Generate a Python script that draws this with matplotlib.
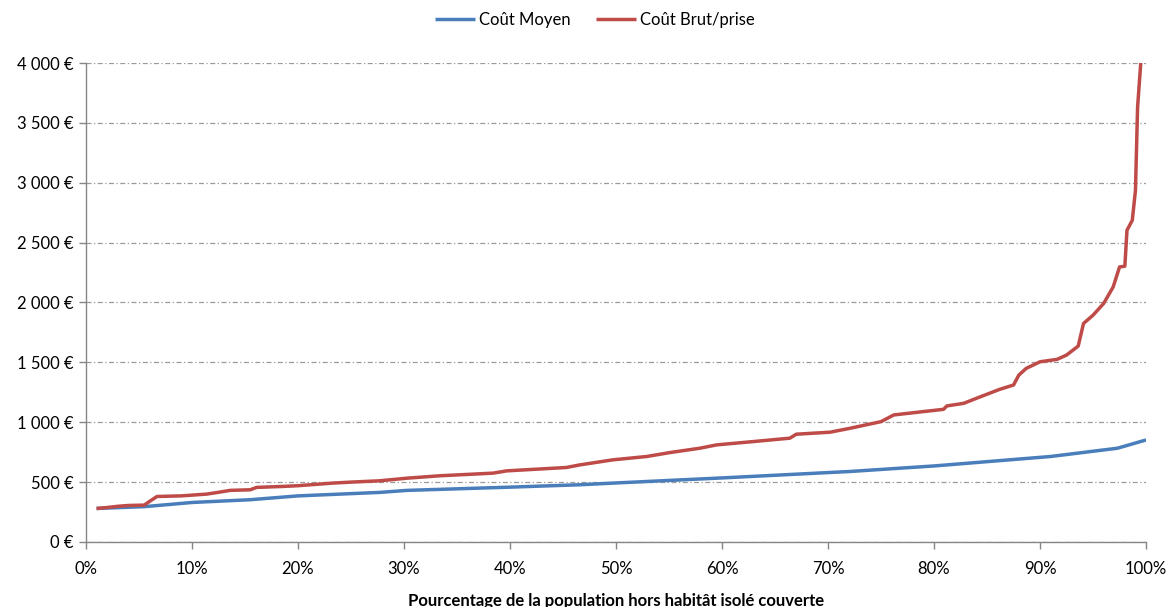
import matplotlib
matplotlib.use("Agg")
import matplotlib.pyplot as plt
from matplotlib.ticker import FuncFormatter, MultipleLocator

plt.rcParams['font.family'] = ['Lato', 'DejaVu Sans']

# Data (percentage of population covered, cost in €)
moyen_x = [1, 5.5, 10, 15.5, 20, 27.7, 30.3, 40, 46.6, 50, 60, 72.1, 80, 91, 97.3, 100]
moyen_y = [280, 295, 330, 353, 385, 414, 431, 458, 478, 493, 535, 589, 635, 714, 783, 852]

brut_x = [1, 2, 3, 4, 5.5, 6.0, 6.7, 9, 11.4, 12.5, 13.6, 15.5, 16.1, 18.6, 20, 23.3, 25,
          27.7, 30.3, 33.4, 38.4, 39.7, 45.3, 46.6, 49.7, 52.9, 55.1, 57.9, 59.5, 63.0, 66.4,
          67.0, 70.2, 72.1, 75.0, 76.2, 80.9, 81.2, 82.8, 84.0, 86.2, 87.5, 88.0, 88.7, 90.0,
          91.6, 92.5, 93.6, 94.1, 95.0, 96.0, 96.9, 97.5, 98.0, 98.2, 98.7, 99.0, 99.2, 99.5, 99.7]
brut_y = [280, 288, 298, 305, 308, 339, 380, 385, 400, 415, 431, 436, 456, 464, 470, 492, 500,
          511, 533, 553, 575, 594, 622, 644, 686, 714, 747, 783, 811, 839, 867,
          900, 917, 950, 1005, 1061, 1108, 1136, 1158, 1200, 1275, 1311, 1394, 1450, 1505,
          1525, 1561, 1636, 1825, 1894, 1992, 2130, 2297, 2303, 2603, 2686, 2936, 3630, 4000, 4400]

labels = ["Coût Moyen", "Coût Brut/prise"]
colors = ["#4A7EBB", "#BE4B48"]

fig = plt.figure(figsize=(11.71, 6.07), dpi=100)
ax = fig.add_axes([0.0734, 0.1071, 0.9787 - 0.0734, 0.8962 - 0.1071])

ax.plot(moyen_x, moyen_y, color=colors[0], lw=2.5, label=labels[0], solid_capstyle='butt')
ax.plot(brut_x, brut_y, color=colors[1], lw=2.5, label=labels[1], solid_capstyle='butt')

ax.set_xlim(0, 100)
ax.set_ylim(0, 4000)
ax.xaxis.set_major_locator(MultipleLocator(10))
ax.yaxis.set_major_locator(MultipleLocator(500))
ax.xaxis.set_major_formatter(FuncFormatter(lambda v, p: f"{int(round(v))}%"))

def euro(v, p):
    s = f"{int(round(v)):,}".replace(",", " ")
    return s + " €"
ax.yaxis.set_major_formatter(FuncFormatter(euro))

ax.grid(axis='y', color='#9a9a9a', linestyle=(0, (4, 2, 1, 2)), linewidth=0.9)
ax.set_axisbelow(True)
for s in ['top', 'right']:
    ax.spines[s].set_visible(False)
for s in ['left', 'bottom']:
    ax.spines[s].set_color('#868686')
    ax.spines[s].set_linewidth(1.0)
ax.tick_params(axis='both', colors='#868686', length=5, width=1, labelsize=12, labelcolor='black')
ax.tick_params(axis='x', pad=9)
ax.tick_params(axis='y', pad=4)

ax.set_xlabel("Pourcentage de la population hors habitât isolé couverte",
              fontsize=12, fontweight='bold', labelpad=11)

fig.legend(loc='center', bbox_to_anchor=(0.508, 0.967), ncol=2, frameon=False,
           fontsize=12, handlelength=2.4, handletextpad=0.25, columnspacing=1.5)

fig.savefig("out.png", dpi=100)
